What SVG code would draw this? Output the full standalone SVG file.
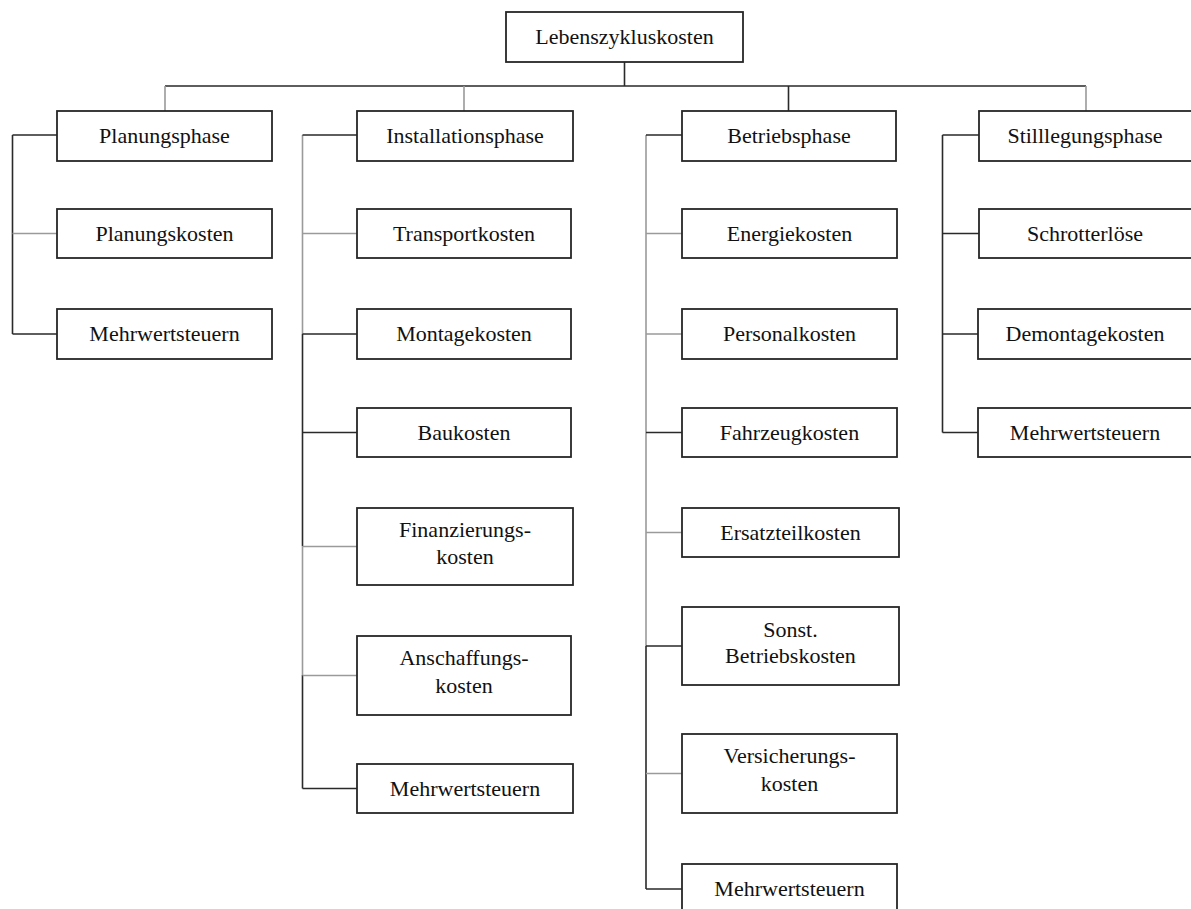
<svg xmlns="http://www.w3.org/2000/svg" width="1191" height="909" viewBox="0 0 1191 909">
<style>
.box{fill:#fff;stroke:#262626;stroke-width:1.8}
.t{font-family:"Liberation Serif","Times New Roman",serif;font-size:22px;fill:#111;text-anchor:middle}
.k{fill:none;stroke:#2a2a2a;stroke-width:1.6}
.g{fill:none;stroke:#9a9a9a;stroke-width:1.6}
</style>
<rect width="1191" height="909" fill="#fff"/>
<g id="connectors">
<path class="k" d="M624.5 62V86M165 86H1086"/>
<path class="g" d="M165 86V111M464 86V111M1086 86V111"/>
<path class="k" d="M788.5 86V111"/>
<path class="k" d="M12.5 135V334M12.5 135H57M12.5 334H57"/>
<path class="g" d="M12.5 233.5H57"/>
<path class="g" d="M302.5 135V334M302.5 546V675"/>
<path class="k" d="M302.5 334V546M302.5 675V788.5M302.5 135H357M302.5 334H357M302.5 432.5H357M302.5 788.5H357"/>
<path class="g" d="M302.5 233.5H357M302.5 546.5H357M302.5 675.5H357"/>
<path class="g" d="M646 135V646"/>
<path class="k" d="M646 646V889M646 135H682M646 432.5H682M646 646H682M646 889H682"/>
<path class="g" d="M646 233.5H682M646 334H682M646 532.5H682M646 773.5H682"/>
<path class="k" d="M942.5 135V432.5M942.5 135H979M942.5 233.5H979M942.5 334H979M942.5 432.5H979"/>
</g>
<g id="root"><rect class="box" x="506" y="12" width="237" height="50"/><text class="t" x="624.5" y="44">Lebenszykluskosten</text></g>
<g id="planungsphase"><rect class="box" x="57" y="111" width="215" height="50"/><text class="t" x="164.5" y="143">Planungsphase</text></g>
<g id="planungskosten"><rect class="box" x="57" y="209" width="215" height="49"/><text class="t" x="164.5" y="241">Planungskosten</text></g>
<g id="mwst-planung"><rect class="box" x="57" y="309" width="215" height="50"/><text class="t" x="164.5" y="341">Mehrwertsteuern</text></g>
<g id="installationsphase"><rect class="box" x="357" y="111" width="216" height="50"/><text class="t" x="465" y="143">Installationsphase</text></g>
<g id="transportkosten"><rect class="box" x="357" y="209" width="214" height="49"/><text class="t" x="464" y="241">Transportkosten</text></g>
<g id="montagekosten"><rect class="box" x="357" y="309" width="214" height="50"/><text class="t" x="464" y="341">Montagekosten</text></g>
<g id="baukosten"><rect class="box" x="357" y="408" width="214" height="49"/><text class="t" x="464" y="440">Baukosten</text></g>
<g id="finanzierungskosten"><rect class="box" x="357" y="508" width="216" height="77"/><text class="t" x="465" y="537">Finanzierungs-</text><text class="t" x="465" y="564">kosten</text></g>
<g id="anschaffungskosten"><rect class="box" x="357" y="636" width="214" height="79"/><text class="t" x="464" y="665">Anschaffungs-</text><text class="t" x="464" y="693">kosten</text></g>
<g id="mwst-installation"><rect class="box" x="357" y="764" width="216" height="49"/><text class="t" x="465" y="796">Mehrwertsteuern</text></g>
<g id="betriebsphase"><rect class="box" x="682" y="111" width="214" height="50"/><text class="t" x="789" y="143">Betriebsphase</text></g>
<g id="energiekosten"><rect class="box" x="682" y="209" width="215" height="49"/><text class="t" x="789.5" y="241">Energiekosten</text></g>
<g id="personalkosten"><rect class="box" x="682" y="309" width="215" height="50"/><text class="t" x="789.5" y="341">Personalkosten</text></g>
<g id="fahrzeugkosten"><rect class="box" x="682" y="408" width="215" height="49"/><text class="t" x="789.5" y="440">Fahrzeugkosten</text></g>
<g id="ersatzteilkosten"><rect class="box" x="682" y="508" width="217" height="49"/><text class="t" x="790.5" y="540">Ersatzteilkosten</text></g>
<g id="sonst-betriebskosten"><rect class="box" x="682" y="607" width="217" height="78"/><text class="t" x="790.5" y="637">Sonst.</text><text class="t" x="790.5" y="663">Betriebskosten</text></g>
<g id="versicherungskosten"><rect class="box" x="682" y="734" width="215" height="79"/><text class="t" x="789.5" y="763">Versicherungs-</text><text class="t" x="789.5" y="791">kosten</text></g>
<g id="mwst-betrieb"><rect class="box" x="682" y="864" width="215" height="50"/><text class="t" x="789.5" y="896">Mehrwertsteuern</text></g>
<g id="stilllegungsphase"><rect class="box" x="979" y="111" width="216" height="50"/><text class="t" x="1085" y="143">Stilllegungsphase</text></g>
<g id="schrotterloese"><rect class="box" x="979" y="209" width="216" height="49"/><text class="t" x="1085" y="241">Schrotterlöse</text></g>
<g id="demontagekosten"><rect class="box" x="978" y="309" width="217" height="50"/><text class="t" x="1085" y="341">Demontagekosten</text></g>
<g id="mwst-stilllegung"><rect class="box" x="978" y="408" width="217" height="49"/><text class="t" x="1085" y="440">Mehrwertsteuern</text></g>
</svg>
